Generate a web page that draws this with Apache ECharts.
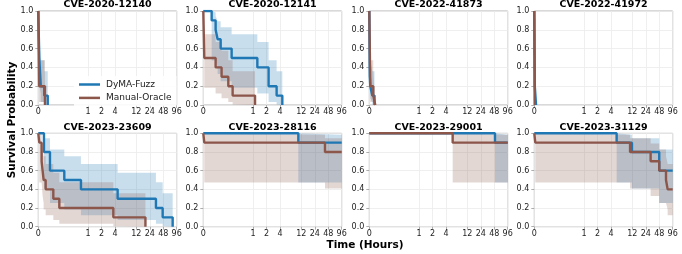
<!DOCTYPE html>
<html>
<head>
<meta charset="utf-8">
<script src="https://cdn.jsdelivr.net/npm/echarts@6/dist/echarts.min.js"></script>
<style>
html,body{margin:0;padding:0;background:#fff;}
#c{width:682px;height:254px;}
</style>
</head>
<body>
<div id="c"></div>
<script>
// ---------------- data ----------------
const titles = ['CVE-2020-12140','CVE-2020-12141','CVE-2022-41873','CVE-2022-41972',
                'CVE-2023-23609','CVE-2023-28116','CVE-2023-29001','CVE-2023-31129'];
const seriesNames = ['DyMA-Fuzz', 'Manual-Oracle'];
const xTickHours = [0, 1, 2, 4, 12, 24, 48, 96];
const yTicks = [0, 0.2, 0.4, 0.6, 0.8, 1.0];
const endHours = 96;

// DyMA-Fuzz: event times (hours) and survival after each event
const dymaTimes = [
  [0.02, 0.03, 0.05, 0.12, 0.19],
  [0.168, 0.248, 0.288, 0.349, 0.57, 1.25, 2.23, 3.37, 4.52],
  [0.01, 0.02, 0.06, 0.105],
  [0.01, 0.035],
  [0.114, 0.235, 0.523, 0.858, 4.59, 33, 46.6, 78],
  [10.3],
  [49.9],
  [5.36, 11.8, 48]
];
const dymaSurv = [
  [0.5, 0.4, 0.2, 0.1, 0],
  [0.9, 0.8, 0.7, 0.6, 0.5, 0.4, 0.2, 0.1, 0],
  [0.3, 0.2, 0.1, 0],
  [0.2, 0],
  [0.8, 0.6, 0.5, 0.4, 0.3, 0.2, 0.1, 0],
  [0.9],
  [0.9],
  [0.9, 0.8, 0.6]
];
// Manual-Oracle
const oracleTimes = [
  [0.015, 0.134],
  [0.02, 0.248, 0.368, 0.503, 0.59, 1.11],
  [0.02, 0.08, 0.12],
  [0.008],
  [0.02, 0.067, 0.087, 0.107, 0.148, 0.302, 0.423, 3.68, 19.2],
  [0.02, 40.6],
  [5.65],
  [0.02, 10.7, 30.8, 48, 68, 74]
];
const oracleSurv = [
  [0.2, 0],
  [0.5, 0.4, 0.3, 0.2, 0.1, 0],
  [0.2, 0.1, 0],
  [0],
  [0.9, 0.7, 0.6, 0.5, 0.4, 0.3, 0.2, 0.1, 0],
  [0.9, 0.8],
  [0.9],
  [0.9, 0.8, 0.7, 0.6, 0.5, 0.4]
];
// confidence band, by survival level
const ciLevel = [1.0, 0.9, 0.8, 0.7, 0.6, 0.5, 0.4, 0.3, 0.2, 0.1, 0.0];
const ciLow   = [1.0, 0.473, 0.409, 0.329, 0.253, 0.184, 0.123, 0.071, 0.031, 0.006, 0.0];
const ciHigh  = [1.0, 0.985, 0.946, 0.892, 0.827, 0.753, 0.670, 0.578, 0.475, 0.358, 0.0];

// ---------------- scale (symlog, base 10, linthresh 1) ----------------
const LIN = 1 / 0.9;
function symlog(t) { return t <= 1 ? t * LIN : LIN + Math.log10(t); }
const XMAX = symlog(endHours);
const tickU = xTickHours.map(symlog);
function tickLabel(v) {
  let best = 0, bd = 1e9;
  tickU.forEach((u, i) => { const d = Math.abs(u - v); if (d < bd) { bd = d; best = i; } });
  return String(xTickHours[best]);
}
function ci(s) {
  let best = 0, bd = 1e9;
  ciLevel.forEach((l, i) => { const d = Math.abs(l - s); if (d < bd) { bd = d; best = i; } });
  return [ciLow[best], ciHigh[best]];
}

// ---------------- layout ----------------
const colLeft = [38.3, 203.3, 369.3, 534.3];
const plotW = 138.4;
const rowTop = [11, 133.3];
const plotH = [94, 93.4];
const FONT = 'DejaVu Sans';
const BLUE = '#1f77b4', BROWN = '#8c564b';
const BLUE_BAND = 'rgba(31,119,180,0.24)', BROWN_BAND = 'rgba(140,86,75,0.24)';

const grids = [], xAxes = [], yAxes = [], series = [], graphics = [];

function buildCurve(times, surv) {
  const pts = [[0, 1]];
  times.forEach((t, k) => pts.push([t, surv[k]]));
  const last = surv[surv.length - 1];
  if (last > 0) pts.push([endHours, last]);
  return pts;
}

for (let i = 0; i < 8; i++) {
  const r = Math.floor(i / 4), c = i % 4;
  grids.push({
    left: colLeft[c], top: rowTop[r], width: plotW, height: plotH[r],
    show: true, borderColor: '#b3b3b3', borderWidth: 1, backgroundColor: 'transparent'
  });
  xAxes.push({
    type: 'value', gridIndex: i, min: 0, max: XMAX,
    axisLine: { show: false },
    axisTick: { show: true, customValues: tickU, length: 3, lineStyle: { color: '#999', width: 0.8 } },
    axisLabel: { customValues: tickU, formatter: v => tickLabel(v), fontSize: 8, color: '#222',
                 fontFamily: FONT, margin: 3, showMinLabel: true, showMaxLabel: true },
    splitLine: { show: true, lineStyle: { color: '#ebebeb', width: 0.8 } }
  });
  yAxes.push({
    type: 'value', gridIndex: i, min: 0, max: 1, interval: 0.2,
    axisLine: { show: false },
    axisTick: { show: true, length: 3, lineStyle: { color: '#999', width: 0.8 } },
    axisLabel: { formatter: v => v.toFixed(1), fontSize: 8, color: '#222', fontFamily: FONT, margin: 5 },
    splitLine: { show: true, lineStyle: { color: '#ebebeb', width: 0.8 } }
  });

  const groups = [
    { name: seriesNames[0], pts: buildCurve(dymaTimes[i], dymaSurv[i]), color: BLUE, band: BLUE_BAND },
    { name: seriesNames[1], pts: buildCurve(oracleTimes[i], oracleSurv[i]), color: BROWN, band: BROWN_BAND }
  ];
  groups.forEach((g, gi) => {
    const stackId = 'band' + i + '_' + gi;
    // data stored as [y, x] so that stacking is applied to the y dimension
    const lower = g.pts.map(p => [ci(p[1])[0], symlog(p[0])]);
    const diff = g.pts.map(p => [ci(p[1])[1] - ci(p[1])[0], symlog(p[0])]);
    series.push({
      type: 'line', name: 'lo' + stackId, xAxisIndex: i, yAxisIndex: i, stack: stackId,
      encode: { x: 1, y: 0 },
      step: 'end', symbol: 'none', silent: true, lineStyle: { width: 0, opacity: 0 },
      data: lower, z: 1, animation: false
    });
    series.push({
      type: 'line', name: 'hi' + stackId, xAxisIndex: i, yAxisIndex: i, stack: stackId,
      encode: { x: 1, y: 0 },
      step: 'end', symbol: 'none', silent: true, lineStyle: { width: 0, opacity: 0 },
      areaStyle: { color: g.band, opacity: 1 },
      data: diff, z: 1, animation: false
    });
  });
  groups.forEach((g, gi) => {
    series.push({
      type: 'line', name: g.name, xAxisIndex: i, yAxisIndex: i,
      step: 'end', symbol: 'none', color: g.color,
      lineStyle: { color: g.color, width: 2.4 },
      data: g.pts.map(p => [symlog(p[0]), p[1]]), z: 3 + gi, animation: false
    });
  });

  graphics.push({
    type: 'text', x: colLeft[c] + plotW / 2, y: rowTop[r] - 6,
    style: { text: titles[i], font: 'bold 9.5px "DejaVu Sans"', fill: '#000',
             textAlign: 'center', textVerticalAlign: 'middle' }
  });
}

graphics.push({
  type: 'text', x: 12, y: 120, rotation: Math.PI / 2,
  style: { text: 'Survival Probability', font: 'bold 10.5px "DejaVu Sans"', fill: '#000',
           textAlign: 'center', textVerticalAlign: 'middle' }
});
graphics.push({
  type: 'text', x: 365, y: 245,
  style: { text: 'Time (Hours)', font: 'bold 10.5px "DejaVu Sans"', fill: '#000',
           textAlign: 'center', textVerticalAlign: 'middle' }
});

const chart = echarts.init(document.getElementById('c'), null, { renderer: 'canvas' });
chart.setOption({
  animation: false,
  backgroundColor: '#fff',
  grid: grids, xAxis: xAxes, yAxis: yAxes, series: series,
  legend: {
    data: seriesNames.map(n => ({ name: n, icon: 'rect' })),
    orient: 'vertical', left: 74, top: 76,
    itemWidth: 21, itemHeight: 2.5, itemGap: 2.4,
    padding: [3, 5, 3, 5],
    backgroundColor: 'rgba(255,255,255,0.85)', borderWidth: 0,
    textStyle: { fontSize: 9, fontFamily: FONT, color: '#222', lineHeight: 11, padding: [0, 0, 0, 1] },
    selectedMode: false
  },
  graphic: graphics
});
</script>
</body>
</html>
